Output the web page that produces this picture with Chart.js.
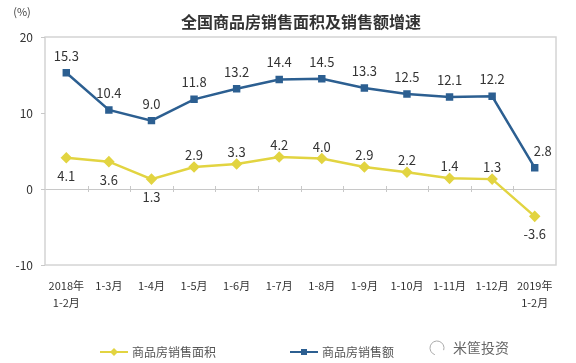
<!DOCTYPE html>
<html>
<head>
<meta charset="utf-8">
<script src="https://cdn.jsdelivr.net/npm/chart.js@4.4.1/dist/chart.umd.min.js"></script>
<style>
  html, body { margin: 0; padding: 0; background: #fff; }
  #wrap { width: 576px; height: 363px; position: relative; }
</style>
</head>
<body>
<div id="wrap"><canvas id="c" width="576" height="363"></canvas></div>
<script>
// 数据
const categories = [
    ["2018年", "1-2月"], "1-3月", "1-4月", "1-5月", "1-6月", "1-7月",
    "1-8月", "1-9月", "1-10月", "1-11月", "1-12月", ["2019年", "1-2月"]
];
const areaGrowth = [4.1, 3.6, 1.3, 2.9, 3.3, 4.2, 4.0, 2.9, 2.2, 1.4, 1.3, -3.6];
const salesGrowth = [15.3, 10.4, 9.0, 11.8, 13.2, 14.4, 14.5, 13.3, 12.5, 12.1, 12.2, 2.8];
const yTicks = [-10, 0, 10, 20];
const seriesNames = ["商品房销售面积", "商品房销售额"];

// 标签在点的上方还是下方
const areaLabelBelow = [true, true, true, false, false, false, false, false, false, false, false, true];

const YELLOW = "#e2d441";
const BLUE = "#2c5f91";
const FONT = "'Noto Sans CJK SC', 'Noto Sans', sans-serif";

// 画边框、零线刻度、数值标签、标题、图例
const extras = {
    id: "extras",
    afterDraw(chart) {
        const c = chart.ctx;
        const a = chart.chartArea;
        const xs = chart.scales.x;
        const ys = chart.scales.y;
        c.save();

        // 边框
        c.strokeStyle = "#d4d4d4";
        c.lineWidth = 1.5;
        c.strokeRect(a.left, a.top, a.right - a.left, a.bottom - a.top);

        // 零线上的刻度
        const y0 = ys.getPixelForValue(0);
        c.strokeStyle = "#c8c8c8";
        c.lineWidth = 1;
        const step = (a.right - a.left) / categories.length;
        for (let i = 1; i < categories.length; i++) {
            const x = Math.round(a.left + step * i) + 0.5;
            c.beginPath();
            c.moveTo(x, y0 - 3);
            c.lineTo(x, y0 + 3);
            c.stroke();
        }
        yTicks.forEach(v => {
            const y = Math.round(ys.getPixelForValue(v)) + 0.5;
            c.beginPath();
            c.moveTo(a.left - 4, y);
            c.lineTo(a.left, y);
            c.stroke();
        });

        // 数值标签
        c.fillStyle = "#333";
        c.font = "13px " + FONT;
        c.textAlign = "center";
        c.textBaseline = "middle";
        const metaArea = chart.getDatasetMeta(0);
        const metaSales = chart.getDatasetMeta(1);
        metaSales.data.forEach((p, i) => {
            c.fillText(salesGrowth[i].toFixed(1), p.x + (i === salesGrowth.length - 1 ? 8 : 0), p.y - 17);
        });
        metaArea.data.forEach((p, i) => {
            c.fillText(areaGrowth[i].toFixed(1), p.x, areaLabelBelow[i] ? p.y + 18 : p.y - 12);
        });

        // 标题
        c.font = "bold 16px " + FONT;
        c.fillStyle = "#333";
        c.fillText("全国商品房销售面积及销售额增速", 301, 22);
        c.font = "11px " + FONT;
        c.fillStyle = "#444";
        c.fillText("(%)", 22, 12);

        // 图例
        const legendY = 352;
        const drawItem = (x, color, name, square) => {
            c.strokeStyle = color;
            c.lineWidth = 2;
            c.beginPath();
            c.moveTo(x, legendY);
            c.lineTo(x + 28, legendY);
            c.stroke();
            c.fillStyle = color;
            c.beginPath();
            if (square) {
                c.rect(x + 11, legendY - 3, 6, 6);
            } else {
                c.moveTo(x + 14, legendY - 4);
                c.lineTo(x + 18, legendY);
                c.lineTo(x + 14, legendY + 4);
                c.lineTo(x + 10, legendY);
                c.closePath();
            }
            c.fill();
            c.fillStyle = "#555";
            c.font = "12px " + FONT;
            c.textAlign = "left";
            c.fillText(name, x + 32, legendY);
        };
        drawItem(100, YELLOW, seriesNames[0], false);
        drawItem(290, BLUE, seriesNames[1], true);

        // 水印
        c.fillStyle = "#666";
        c.font = "14px " + FONT;
        c.textAlign = "left";
        c.fillText("米筐投资", 453, 348);
        c.strokeStyle = "#aaa";
        c.lineWidth = 1;
        c.beginPath();
        c.arc(437, 348, 7, Math.PI * 0.6, Math.PI * 2.1);
        c.stroke();

        c.restore();
    }
};

const ctx = document.getElementById("c").getContext("2d");
const chart = new Chart(ctx, {
    type: "line",
    data: {
        labels: categories,
        datasets: [{
            label: seriesNames[0],
            data: areaGrowth,
            borderColor: YELLOW,
            backgroundColor: YELLOW,
            borderWidth: 2.5,
            pointStyle: "rectRot",
            pointRadius: 4,
            pointBackgroundColor: YELLOW,
            pointBorderColor: YELLOW,
            tension: 0,
        }, {
            label: seriesNames[1],
            data: salesGrowth,
            borderColor: BLUE,
            backgroundColor: BLUE,
            borderWidth: 2.5,
            pointStyle: "rect",
            pointRadius: 3.5,
            pointBackgroundColor: BLUE,
            pointBorderColor: BLUE,
            tension: 0,
        }],
    },
    options: {
        responsive: false,
        animation: false,
        events: [],
        layout: { padding: { top: 37, right: 20, left: 0, bottom: 0 } },
        plugins: {
            legend: { display: false },
            title: { display: false },
            tooltip: { enabled: false },
        },
        scales: {
            x: {
                offset: true,
                grid: { display: false, drawTicks: false },
                border: { display: false },
                ticks: {
                    color: "#333",
                    font: { size: 11, family: FONT, lineHeight: 1.5 },
                    padding: 13,
                    maxRotation: 0,
                    autoSkip: false,
                },
                afterFit: scale => { scale.height = 98; },
            },
            y: {
                min: -10,
                max: 20,
                afterBuildTicks: scale => { scale.ticks = yTicks.map(v => ({ value: v })); },
                grid: {
                    color: c => c.tick && c.tick.value === 0 ? "#c8c8c8" : "rgba(0,0,0,0)",
                    lineWidth: 1,
                    drawTicks: false,
                },
                border: { display: false },
                ticks: {
                    color: "#333",
                    font: { size: 12, family: FONT },
                    padding: 12,
                },
                afterFit: scale => { scale.width = 45; },
            },
        },
    },
    plugins: [extras],
});
</script>
</body>
</html>
